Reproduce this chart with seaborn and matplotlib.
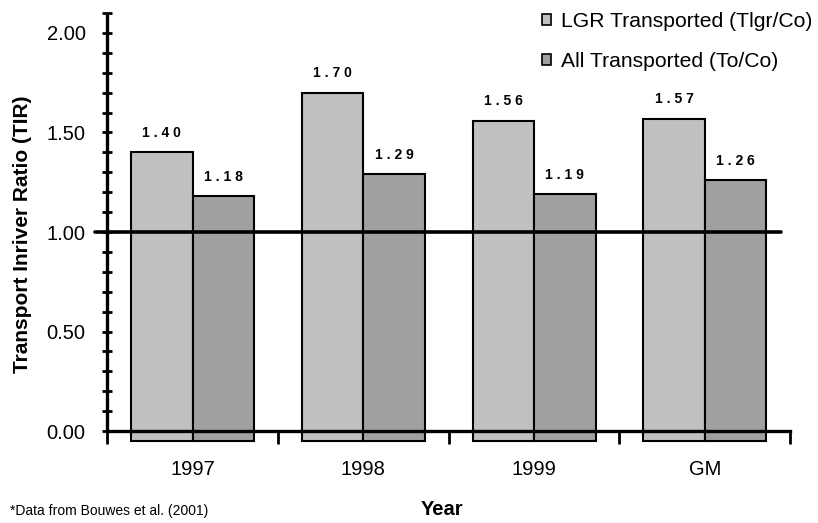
"""
Transport Inriver Ratio (TIR) by year, LGR vs all transported fish.
"""
import seaborn as sns
import pandas as pd
import matplotlib.pyplot as plt
from matplotlib.ticker import MultipleLocator, FixedLocator

years = ["1997", "1998", "1999", "GM"]
series = ["LGR Transported (Tlgr/Co)", "All Transported (To/Co)"]
lgrValues = [1.40, 1.70, 1.56, 1.57]
allValues = [1.18, 1.29, 1.19, 1.26]
colors = ["#C0C0C0", "#A0A0A0"]

dfTir = pd.DataFrame({
    "year": years * 2,
    "series": [series[0]] * 4 + [series[1]] * 4,
    "tir": lgrValues + allValues,
})

sns.set_style("ticks")
plt.rcParams["font.family"] = ["Liberation Sans", "DejaVu Sans"]
plt.rcParams["text.color"] = "black"
plt.rcParams["axes.labelcolor"] = "black"
plt.rcParams["xtick.color"] = "black"
plt.rcParams["ytick.color"] = "black"

fig = plt.figure(figsize=(8.18, 5.23), dpi=100)
ax = fig.add_axes([0.131, 0.153, 0.835, 0.822])

sns.barplot(data=dfTir, x="year", y="tir", hue="series", palette=colors,
            saturation=1, width=0.72, edgecolor="black", linewidth=1.5,
            legend=False, ax=ax, zorder=2)

# value labels, spaced out a bit like the original
for container, vals in zip(ax.containers, [lgrValues, allValues]):
    ax.bar_label(container, labels=[" ".join(f"{v:.2f}") for v in vals],
                 padding=9, fontsize=10, fontweight="bold")

# bars hang slightly below the zero line
for p in ax.patches:
    p.set_y(-0.05)
    p.set_height(p.get_height() + 0.05)

ax.set_xlim(-0.5, 3.5)
ax.set_ylim(-0.06, 2.1)

ax.spines["top"].set_visible(False)
ax.spines["right"].set_visible(False)
ax.spines["bottom"].set_position(("data", 0))
ax.spines["bottom"].set_bounds(-0.5, 3.5)
ax.spines["left"].set_bounds(0, 2.085)
for s in ["bottom", "left"]:
    ax.spines[s].set_linewidth(2.4)
    ax.spines[s].set_color("black")
    ax.spines[s].set_zorder(4)

ax.axhline(1.0, xmin=-0.018, xmax=0.986, color="black", lw=2.6,
           clip_on=False, zorder=4)

ax.yaxis.set_minor_locator(MultipleLocator(0.1))
ax.set_yticks([0, 0.5, 1.0, 1.5, 2.0])
ax.set_yticklabels(["0.00", "0.50", "1.00", "1.50", "2.00"])
ax.tick_params(axis="y", which="both", direction="inout", length=7, width=2,
               labelsize=14.5, pad=12)
ax.xaxis.set_minor_locator(FixedLocator([-0.5, 0.5, 1.5, 2.5, 3.5]))
ax.tick_params(axis="x", which="major", length=0, labelsize=14.5, pad=21)
ax.tick_params(axis="x", which="minor", direction="out", length=9, width=2)

ax.set_xlabel("")
ax.set_ylabel("Transport Inriver Ratio (TIR)", fontsize=15, fontweight="bold")
ax.yaxis.set_label_coords(-0.11, 0.486)

fig.text(0.54, 0.025, "Year", fontsize=14.5, fontweight="bold",
         ha="center", va="center")
fig.text(0.012, 0.023, "*Data from Bouwes et al. (2001)", fontsize=10,
         ha="left", va="center")

handles = [plt.Rectangle((0, 0), 1, 1, facecolor=c, edgecolor="black", lw=1.2)
           for c in colors]
fig.legend(handles, series, loc="upper right", bbox_to_anchor=(0.998, 0.985),
           frameon=False, fontsize=15.2, handlelength=0.45, handleheight=0.45,
           handletextpad=0.45, labelspacing=0.98, borderpad=0.2, borderaxespad=0)

fig.savefig("out.png", dpi=100)
